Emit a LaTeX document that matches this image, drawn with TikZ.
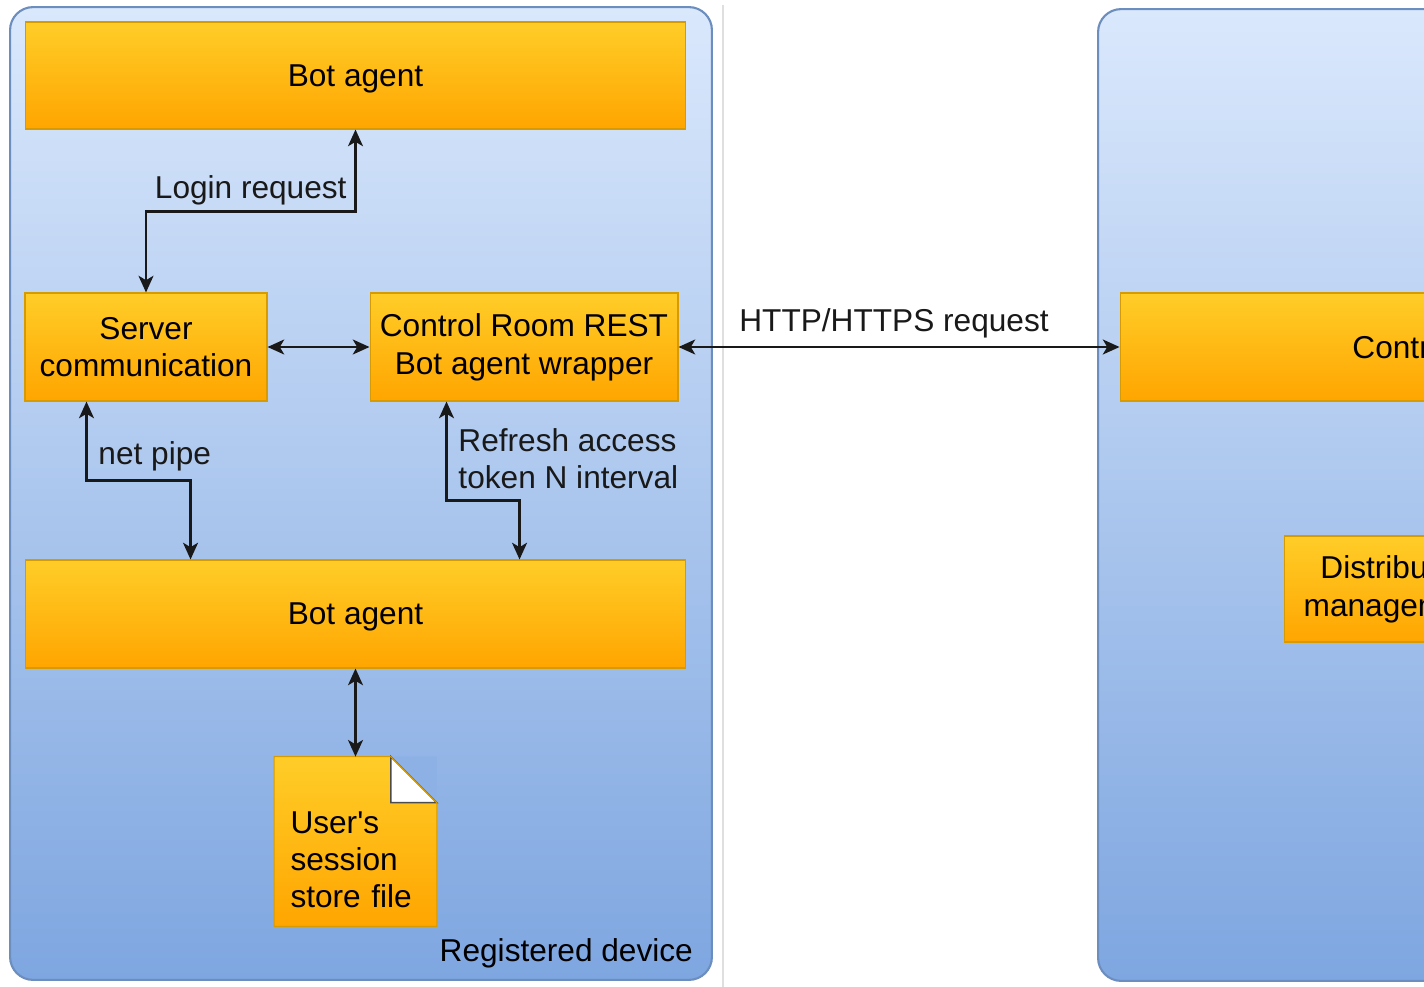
\documentclass[tikz,border=0pt]{standalone}
\usepackage{fontspec}
\setmainfont{Liberation Sans}
\usetikzlibrary{arrows.meta,calc}

\definecolor{boxtop}{HTML}{FFCD28}
\definecolor{boxbot}{HTML}{FFA500}
\definecolor{boxline}{HTML}{D79B00}
\definecolor{pantop}{HTML}{DAE8FC}
\definecolor{panbot}{HTML}{7EA6E0}
\definecolor{panline}{HTML}{6C8EBF}
\definecolor{notecut}{HTML}{8DB0E5}

\tikzset{
  panel/.style={draw=panline, line width=1.2pt, top color=pantop, bottom color=panbot,
                rounded corners=0.46cm, minimum width=14.04cm, inner sep=0pt},
  box/.style={draw=boxline, line width=0.6pt, top color=boxtop, bottom color=boxbot,
              align=center, inner sep=0pt, font=\fontsize{18}{21.5}\selectfont},
  notebox/.style={top color=boxtop, bottom color=boxbot, align=left, inner xsep=0.32cm,
                  inner ysep=0pt, font=\fontsize{18}{21.2}\selectfont},
  lbl/.style={inner sep=1pt, align=left, font=\fontsize{18}{21}\selectfont},
  link/.style={<->, >={Stealth[length=9.5pt, width=8.5pt, inset=2.5pt]}, line width=1.4pt, black!90}
}

\begin{document}
\begin{tikzpicture}[x=0.02cm, y=-0.02cm]
  \useasboundingbox (0,0) rectangle (1424,987);
  \clip (0,0) rectangle (1424,987);

  % — panels —
  \node[panel, minimum height=19.46cm] (dev) at (361,493.5) {};
  \node[panel, minimum height=19.44cm] (srvside) at (1449,495) {};
  \node[lbl, anchor=south east] (devlbl) at ($(dev.south east)+(-18,-11)$) {Registered device};

  % divider
  \draw[gray!25, line width=1pt] (723,5) -- (723,987);

  % — left: registered device —
  \node[box, text depth=0pt, minimum width=13.22cm, minimum height=2.14cm] (top) at (355.5,75.5) {Bot agent};
  \node[box, minimum width=4.84cm, minimum height=2.16cm] (srv) at (146,347) {Server\\communication};
  \node[box, minimum width=6.16cm, minimum height=2.16cm] (rest) at (524,347) {Control Room REST\\Bot agent wrapper};
  \node[box, text depth=0pt, minimum width=13.22cm, minimum height=2.16cm] (bot) at (355.5,614) {Bot agent};

  % session file (note shape)
  \node[notebox, minimum width=3.24cm, minimum height=3.38cm, text width=2.6cm] (file) at (355.5,841.5)
    {\rule{0pt}{33pt}User\textquotesingle s\\session\\store file};
  \fill[notecut] ($(file.north east)+(-46,0)$) -- (file.north east) -- ($(file.north east)+(0,46)$) -- cycle;
  \filldraw[fill=white, draw=black!70, line width=0.8pt] ($(file.north east)+(-46,0)$)
    -- ($(file.north east)+(-46,46)$) -- ($(file.north east)+(0,46)$) -- cycle;
  \draw[boxline, line width=0.6pt] (file.north west) -- ($(file.north east)+(-46,0)$)
    -- ($(file.north east)+(0,46)$) -- (file.south east) -- (file.south west) -- cycle;

  % — right: control room —
  \node[box, text depth=0pt, minimum width=13.2cm, minimum height=2.16cm] (crm) at (1450,347) {Control Room};
  \node[box, minimum width=4.48cm, minimum height=2.12cm] (dist) at (1396,589) {Distributed\\management};

  % — links —
  \draw[link] (srv.north) -- ++(0,-81) -| node[lbl, pos=0.25, above, yshift=0.06cm] {Login request} (top.south);
  \draw[link] (srv.east) -- (rest.west);
  \draw[link] ($(srv.south west)+(62,0)$) -- ++(0,79)
    -| node[lbl, pos=0, anchor=south west, xshift=0.18cm, yshift=0.12cm] {net pipe} ($(bot.north west)+(166,0)$);
  \draw[link] ($(rest.south west)+(77,0)$) -- ++(0,99)
    -| node[lbl, pos=0, anchor=south west, xshift=0.18cm, yshift=0.18cm] {Refresh access\\token N interval} ($(bot.north west)+(495,0)$);
  \draw[link] (bot.south) -- (file.north);
  \draw[link] (rest.east) -- node[lbl, above, xshift=-0.1cm, yshift=0.12cm] {HTTP/HTTPS request} (crm.west);
\end{tikzpicture}
\end{document}
